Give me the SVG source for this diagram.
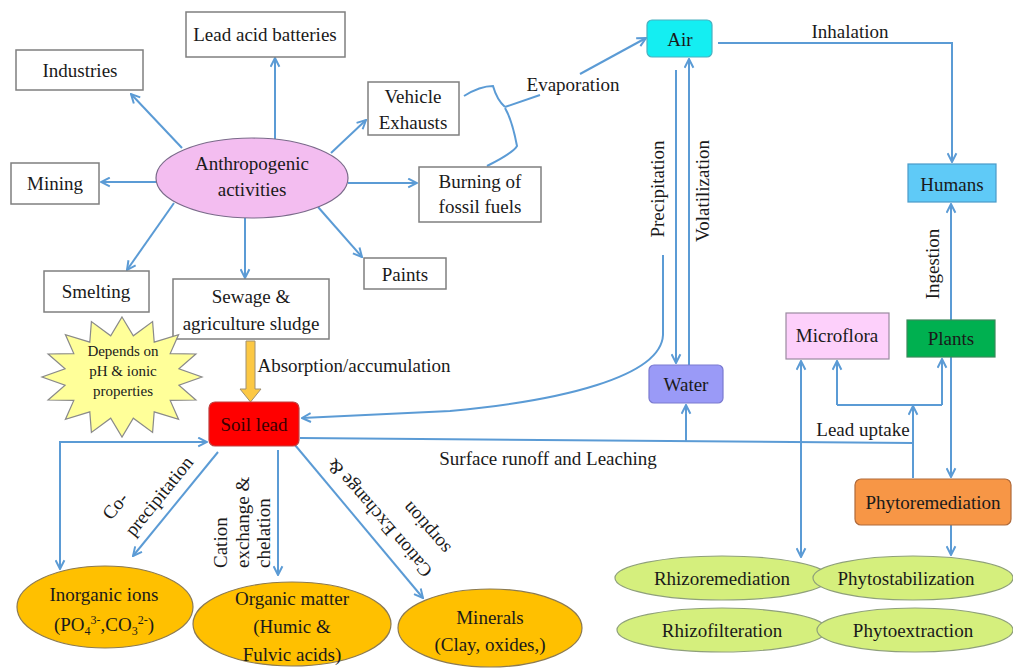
<svg xmlns="http://www.w3.org/2000/svg" width="1013" height="668" viewBox="0 0 1013 668">
<style>
.t{font-family:"Liberation Serif","Times New Roman",serif;font-size:19px;fill:#1a1a1a}
.m{text-anchor:middle}
.s{font-size:15px}
.c{stroke:#5b9bd5;stroke-width:2;fill:none}
.a{marker-end:url(#ah)}
.b{marker-start:url(#ah);marker-end:url(#ah)}
.box{fill:#fff;stroke:#7f7f7f;stroke-width:1.5}
.org{fill:#ffc000;stroke:#8c7a50;stroke-width:1.2}
.grn{fill:#d5ef7d;stroke:#8fa07a;stroke-width:1.2}
</style>
<defs>
<marker id="ah" viewBox="0 0 10 10" refX="9" refY="5" markerWidth="11" markerHeight="11" markerUnits="userSpaceOnUse" orient="auto-start-reverse">
<path d="M1,1 L9,5 L1,9" fill="none" stroke="#5b9bd5" stroke-width="1.8"/>
</marker>
</defs>
<rect width="1013" height="668" fill="#fff"/>

<g id="connectors">
<path class="c a" d="M275,139 L275,58"/>
<path class="c a" d="M182,148 L131,94"/>
<path class="c a" d="M156,182 L101,182"/>
<path class="c a" d="M331,153 L366,120"/>
<path class="c a" d="M348,183 L417,183"/>
<path class="c a" d="M174,203 L127,270"/>
<path class="c a" d="M245,218 L245,278"/>
<path class="c a" d="M318,207 L362,257"/>
<path class="c" d="M464,96 Q480,86 493,86 Q497,100 505,107"/>
<path class="c" d="M487,166 Q513,153 517,146 Q512,120 505,108"/>
<path class="c" d="M505,107 L540,95"/>
<path class="c a" d="M580,74 L646,38"/>
<path class="c a" d="M718,43 L952,43 L952,162"/>
<path class="c a" d="M951,320 L951,204"/>
<path class="c a" d="M676,70 L676,363"/>
<path class="c a" d="M689,365 L689,59"/>
<path class="c a" d="M663,255 L663,335 C661,377 560,401 450,411 L302,418"/>
<path class="c" d="M300,438 L913,443"/>
<path class="c a" d="M686,441 L686,405"/>
<path class="c a" d="M913,478 L913,406"/>
<path class="c" d="M837,405 L942,405"/>
<path class="c a" d="M837,405 L837,361"/>
<path class="c a" d="M942,405 L942,359"/>
<path class="c b" d="M801,361 L801,557"/>
<path class="c a" d="M951,357 L951,477"/>
<path class="c a" d="M951,525 L951,555"/>
<path class="c b" d="M207,442 L60,442 L60,569"/>
<path class="c a" d="M218,452 L133,556"/>
<path class="c a" d="M278,450 L278,575"/>
<path class="c a" d="M295,445 L423,598"/>
</g>

<g id="anthropogenic">
<ellipse cx="252" cy="178" rx="96" ry="40" fill="#f3bdf0" stroke="#7a6a8a" stroke-width="1.2"/>
<text class="t m" x="252" y="170">Anthropogenic</text>
<text class="t m" x="252" y="196">activities</text>
</g>
<g id="lead-acid">
<rect class="box" x="186" y="12" width="159" height="45"/>
<text class="t m" x="265" y="41">Lead acid batteries</text>
</g>
<g id="industries">
<rect class="box" x="16" y="50" width="127" height="40"/>
<text class="t m" x="80" y="77">Industries</text>
</g>
<g id="mining">
<rect class="box" x="11" y="163" width="88" height="41"/>
<text class="t m" x="55" y="190">Mining</text>
</g>
<g id="vehicle">
<rect class="box" x="368" y="82" width="91" height="53"/>
<text class="t m" x="413" y="103">Vehicle</text>
<text class="t m" x="413" y="129">Exhausts</text>
</g>
<g id="burning">
<rect class="box" x="419" y="167" width="122" height="55"/>
<text class="t m" x="480" y="188">Burning of</text>
<text class="t m" x="480" y="213">fossil fuels</text>
</g>
<g id="smelting">
<rect class="box" x="44" y="271" width="105" height="41"/>
<text class="t m" x="96" y="298">Smelting</text>
</g>
<g id="sewage">
<rect class="box" x="173" y="279" width="156" height="60"/>
<text class="t m" x="251" y="303">Sewage &amp;</text>
<text class="t m" x="251" y="330">agriculture sludge</text>
</g>
<g id="paints">
<rect class="box" x="364" y="258" width="82" height="31"/>
<text class="t m" x="405" y="281">Paints</text>
</g>
<g id="evaporation-label">
<text class="t m" x="573" y="91">Evaporation</text>
</g>
<g id="air">
<rect x="647" y="20" width="65" height="37" rx="5" fill="#14eef2" stroke="#4ab0c0" stroke-width="1.2"/>
<text class="t m" x="680" y="46">Air</text>
</g>
<text class="t m" x="850" y="38">Inhalation</text>
<g id="humans">
<rect x="908" y="164" width="88" height="38" fill="#5fcaf7" stroke="#4a9ac8" stroke-width="1.2"/>
<text class="t m" x="952" y="191">Humans</text>
</g>
<text class="t m" transform="translate(939,264) rotate(-90)">Ingestion</text>
<g id="plants">
<rect x="907" y="320" width="88" height="37" fill="#00b050" stroke="#3a8a5a" stroke-width="1.2"/>
<text class="t m" x="951" y="345">Plants</text>
</g>
<g id="microflora">
<rect x="786" y="313" width="103" height="46" fill="#fdd0fb" stroke="#9a8aa0" stroke-width="1.2"/>
<text class="t m" x="837" y="342">Microflora</text>
</g>
<g id="water">
<rect x="649" y="365" width="74" height="38" rx="5" fill="#9a9af7" stroke="#7a7ad0" stroke-width="1.2"/>
<text class="t m" x="686" y="391">Water</text>
</g>
<text class="t m" transform="translate(664,189) rotate(-90)">Precipitation</text>
<text class="t m" transform="translate(709,191) rotate(-90)">Volatilization</text>
<text class="t m" x="863" y="436">Lead uptake</text>
<text class="t m" x="548" y="465">Surface runoff and Leaching</text>
<text class="t m" x="354" y="372">Absorption/accumulation</text>

<g id="star">
<polygon points="122,317 133.3,335.8 152.6,321.6 154.2,342.1 178.6,334.6 170.2,353.6 195.9,354 178.9,368.8 202,377 178.9,385.2 195.9,400 170.2,400.4 178.6,419.4 154.2,411.9 152.6,432.4 133.3,418.2 122,437 110.7,418.2 91.4,432.4 89.8,411.9 65.4,419.4 73.8,400.4 48.1,400 65.1,385.2 42,377 65.1,368.8 48.1,354 73.8,353.6 65.4,334.6 89.8,342.1 91.4,321.6 110.7,335.8" fill="#ffff99" stroke="#8a8a8a" stroke-width="1.2"/>
<text class="t s m" x="123" y="356">Depends on</text>
<text class="t s m" x="123" y="376">pH &amp; ionic</text>
<text class="t s m" x="123" y="396">properties</text>
</g>
<g id="absorption-arrow">
<polygon points="246,341 255,341 255,389 261,389 250.5,402 240,389 246,389" fill="#fcc844" stroke="#a09070" stroke-width="1"/>
</g>
<g id="soil-lead">
<rect x="209" y="402" width="90" height="44" rx="6" fill="#ff0000" stroke="#c04040" stroke-width="1.2"/>
<text class="t m" x="254" y="431" style="fill:#3a0000">Soil lead</text>
</g>
<text class="t m" transform="translate(120,510) rotate(-51)">Co-</text>
<text class="t m" transform="translate(164,500) rotate(-51)">precipitation</text>
<text class="t" transform="translate(227,568) rotate(-90)">Cation<tspan x="0" dy="22">exchange &amp;</tspan><tspan x="0" dy="21">chelation</tspan></text>
<text class="t m" transform="translate(384,514) rotate(-131)">Cation Exchange &amp;</text>
<text class="t m" transform="translate(431,524) rotate(-131)">sorption</text>

<g id="inorganic">
<ellipse class="org" cx="105" cy="607" rx="88" ry="41"/>
<text class="t m" x="104" y="601">Inorganic ions</text>
<text class="t m" x="104" y="631">(PO<tspan font-size="12" dy="4">4</tspan><tspan font-size="12" dy="-11">3-</tspan><tspan dy="7">,CO</tspan><tspan font-size="12" dy="4">3</tspan><tspan font-size="12" dy="-11">2-</tspan><tspan dy="7">)</tspan></text>
</g>
<g id="organic">
<ellipse class="org" cx="292" cy="624" rx="99" ry="42"/>
<text class="t m" x="292" y="605">Organic matter</text>
<text class="t m" x="292" y="633">(Humic &amp;</text>
<text class="t m" x="292" y="661">Fulvic acids)</text>
</g>
<g id="minerals">
<ellipse class="org" cx="490" cy="628" rx="92" ry="39"/>
<text class="t m" x="490" y="624">Minerals</text>
<text class="t m" x="490" y="651">(Clay, oxides,)</text>
</g>
<g id="phytoremediation">
<rect x="855" y="479" width="156" height="46" rx="6" fill="#f79646" stroke="#b06a3a" stroke-width="1.2"/>
<text class="t m" x="933" y="509">Phytoremediation</text>
</g>
<g id="rhizoremediation">
<ellipse class="grn" cx="722" cy="578" rx="107" ry="22"/>
<text class="t m" x="722" y="585">Rhizoremediation</text>
</g>
<g id="phytostabilization">
<ellipse class="grn" cx="913" cy="578" rx="100" ry="22"/>
<text class="t m" x="906" y="585">Phytostabilization</text>
</g>
<g id="rhizofilteration">
<ellipse class="grn" cx="722" cy="630" rx="105" ry="22"/>
<text class="t m" x="722" y="637">Rhizofilteration</text>
</g>
<g id="phytoextraction">
<ellipse class="grn" cx="915" cy="630" rx="98" ry="22"/>
<text class="t m" x="913" y="637">Phytoextraction</text>
</g>
</svg>
